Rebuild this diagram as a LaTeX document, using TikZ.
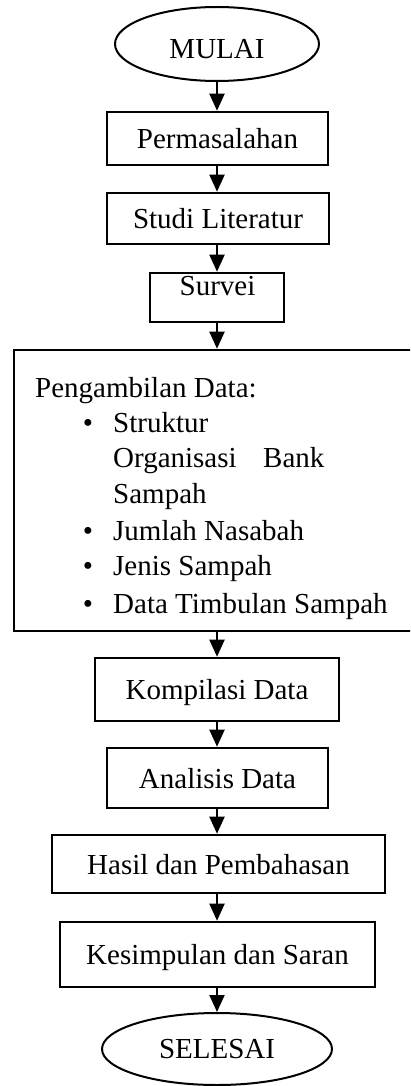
\documentclass[tikz,border=0pt]{standalone}
\usepackage{fontspec}
\setmainfont{Liberation Serif}
\usetikzlibrary{arrows.meta,shapes.geometric}
\begin{document}
\begin{tikzpicture}[x=1pt,y=-1pt,
  every node/.style={font=\fontsize{29}{35}\selectfont},
  box/.style={draw,rectangle,line width=2.6pt,inner sep=0pt,text height=20pt,text depth=0pt},
  term/.style={draw,ellipse,line width=2pt,inner sep=0pt},
  txt/.style={anchor=base west,inner sep=0pt},
  bul/.style={anchor=base,inner sep=0pt},
  arr/.style={line width=2pt,-{Triangle[length=17pt,width=15pt]}}]
\clip (0,0) rectangle (410,1086);
\fill[white] (0,0) rectangle (410,1086);
\node[term,minimum width=204pt,minimum height=74pt,text height=30pt,text depth=0pt] (mulai) at (217,44) {MULAI};
\node[box,minimum width=221pt,minimum height=53pt] (perm) at (217.5,138.5) {Permasalahan};
\node[box,minimum width=222pt,minimum height=51pt] (studi) at (218,218.5) {Studi Literatur};
\node[box,minimum width=134pt,minimum height=49pt] (survei) at (217,297.5) {};
\node[txt,anchor=base] (surveit) at (217.5,295) {Survei};
\node[box,minimum width=406pt,minimum height=281pt] (data) at (217,490.5) {};
\node[txt] (l1) at (35,397) {Pengambilan Data:};
\node[bul] (b1) at (88,432) {•};
\node[txt] (l2) at (113,432) {Struktur};
\node[txt] (l3) at (113,467) {\makebox[150pt][l]{Organisasi}Bank};
\node[txt] (l4) at (113,503) {Sampah};
\node[bul] (b2) at (88,540) {•};
\node[txt] (l5) at (113,540) {Jumlah Nasabah};
\node[bul] (b3) at (88,575) {•};
\node[txt] (l6) at (113,575) {Jenis Sampah};
\node[bul] (b4) at (88,613) {•};
\node[txt] (l7) at (113,613) {Data Timbulan Sampah};
\node[box,minimum width=244pt,minimum height=63pt] (komp) at (217,689.5) {Kompilasi Data};
\node[box,minimum width=221pt,minimum height=60pt] (anal) at (217.5,778) {Analisis Data};
\node[box,minimum width=333pt,minimum height=58pt] (hasil) at (218.5,864) {Hasil dan Pembahasan};
\node[box,minimum width=315pt,minimum height=65pt] (kes) at (217.5,954.5) {Kesimpulan dan Saran};
\node[term,minimum width=230pt,minimum height=72pt] (selesai) at (217,1049) {SELESAI};
\draw[arr] (mulai.south) -- (perm.north -| mulai.south);
\draw[arr] (perm.south -| mulai.south) -- (studi.north -| mulai.south);
\draw[arr] (studi.south -| mulai.south) -- (survei.north);
\draw[arr] (survei.south) -- (data.north);
\draw[arr] (data.south) -- (komp.north);
\draw[arr] (komp.south) -- (anal.north -| komp.south);
\draw[arr] (anal.south -| komp.south) -- (hasil.north -| komp.south);
\draw[arr] (hasil.south -| komp.south) -- (kes.north -| komp.south);
\draw[arr] (kes.south -| komp.south) -- (selesai.north);
\end{tikzpicture}
\end{document}
